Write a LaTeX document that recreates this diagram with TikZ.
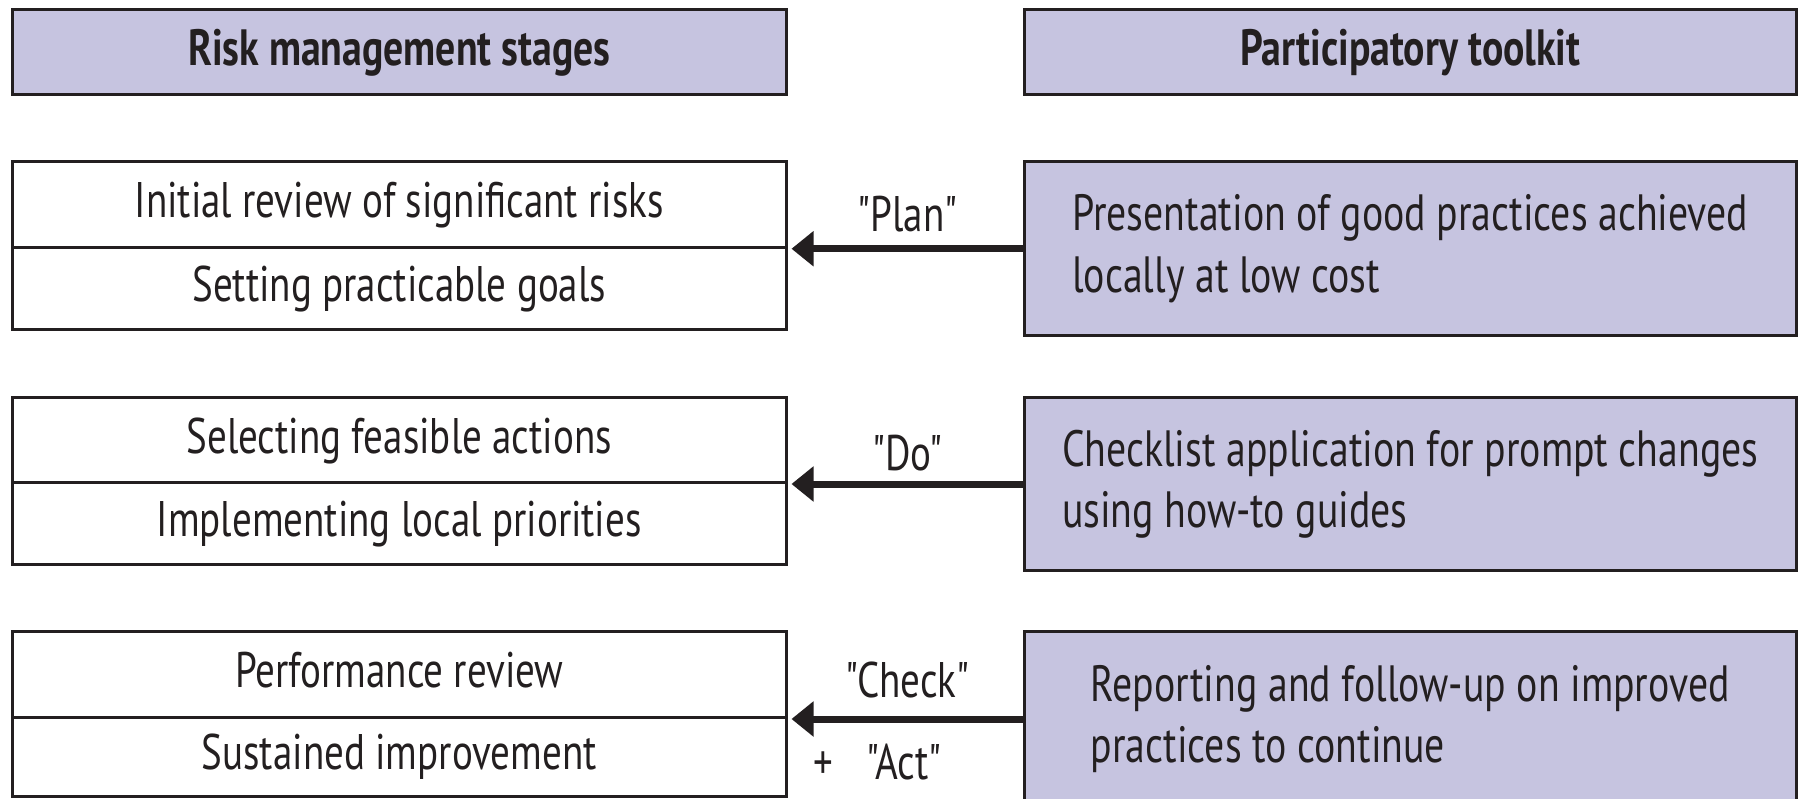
\documentclass[tikz,border=0pt]{standalone}
\usepackage{fontspec}
\setmainfont[FakeStretch=0.78, Ligatures=TeXOff]{PT Sans}
\usetikzlibrary{arrows.meta}
\definecolor{ink}{RGB}{35,31,32}
\definecolor{lav}{RGB}{198,196,224}

\begin{document}
\begin{tikzpicture}[x=1pt,y=-1pt,
  box/.style={draw=ink, line width=3pt, inner sep=0pt, text=ink},
  hdr/.style={box, fill=lav, minimum width=773.5pt, minimum height=84.5pt,
    font=\fontsize{51}{61}\selectfont\bfseries, text height=37pt, text depth=10pt},
  cell/.style={box, fill=white, minimum width=773.5pt,
    font=\fontsize{50}{60}\selectfont, text height=36pt, text depth=10pt},
  tool/.style={box, fill=lav, minimum width=772.5pt, align=left,
    font=\fontsize{51}{61.5}\selectfont},
  lbl/.style={anchor=base, inner sep=0pt, text=ink, font=\fontsize{50}{60}\selectfont},
  link/.style={draw=ink, line width=7pt, -{Triangle[length=22pt,width=34pt]}, shorten >=4pt}]

\useasboundingbox (0,0) rectangle (1801,799);
\clip (0,0) rectangle (1801,799);

% column headings
\node[hdr] (hl) at (399.25,52.25) {Risk management stages};
\node[hdr, minimum width=772.5pt] (hr) at (1410.25,52.25) {Participatory toolkit};

% risk management stages (two cells per stage)
\node[cell, minimum height=86.5pt] (l1a) at (399.25,204.75) {Initial review of significant risks};
\node[cell, minimum height=82pt]   (l1b) at (399.25,289)    {Setting practicable goals};
\node[cell, minimum height=85pt]   (l2a) at (399.25,440)    {Selecting feasible actions};
\node[cell, minimum height=82pt]   (l2b) at (399.25,523.5)  {Implementing local priorities};
\node[cell, minimum height=86.5pt] (l3a) at (399.25,674.25) {Performance review};
\node[cell, minimum height=78.5pt] (l3b) at (399.25,756.75) {Sustained improvement};

% participatory toolkit
\node[tool, minimum height=174.5pt] (r1) at (1410.25,248.75)
  {Presentation of good practices achieved\\locally at low cost};
\node[tool, minimum height=173pt] (r2) at (1410.25,484)
  {Checklist application for prompt changes\\using how-to guides};
\node[tool, minimum height=176pt] (r3) at (1410.25,719)
  {Reporting and follow-up on improved\\practices to continue};

% PDCA links
\draw[link] (r1.west) -- (r1.west -| l1a.east);
\draw[link] (r2.west) -- (r2.west -| l2a.east);
\draw[link] (r3.west) -- (r3.west -| l3a.east);

\node[lbl] (plan)  at (907.5,232) {"Plan"};
\node[lbl] (do)    at (907.5,470) {"Do"};
\node[lbl] (check) at (907.5,697) {"Check"};
\node[lbl, anchor=base west] (act) at (813,779) {+\hspace{34pt}"Act"};
\end{tikzpicture}
\end{document}
